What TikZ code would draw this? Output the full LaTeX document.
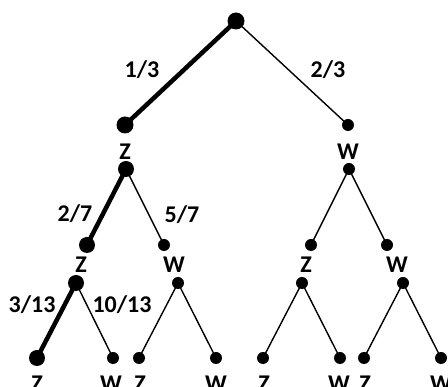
\documentclass[tikz,border=0pt]{standalone}
\usepackage{fontspec}
\setmainfont{Carlito}
\usetikzlibrary{positioning}

\begin{document}
\begin{tikzpicture}[
			x=1pt,y=-1pt,
			bdot/.style={circle,fill=black,inner sep=0pt,minimum size=17pt},
			sdot/.style={circle,fill=black,inner sep=0pt,minimum size=12pt},
			lbl/.style={font=\fontsize{24}{28}\selectfont\bfseries,inner sep=0pt},
			thick edge/.style={line width=4.5pt},
			thin edge/.style={line width=1.4pt}
			]
			\useasboundingbox (0,0) rectangle (448,387);
			\node[bdot](root) at (236,21) {};
			\node[bdot](a) at (125,125) {};
			\node[sdot](b) at (348,125) {};
			\node[lbl](la) at (125,152) {Z};
			\node[lbl](lb) at (348,152) {W};
			\node[bdot,minimum size=16pt](a2) at (126,169) {};
			\node[sdot](b2) at (349,169) {};
			\node[bdot,minimum size=16pt](c) at (87,245) {};
			\node[sdot](d) at (164,245) {};
			\node[sdot](e) at (311,245) {};
			\node[sdot](f) at (387,245) {};
			\node[lbl](lc) at (81,265) {Z};
			\node[lbl](ld) at (174,265) {W};
			\node[lbl](le) at (306,265) {Z};
			\node[lbl](lf) at (397,265) {W};
			\node[bdot,minimum size=16pt](c2) at (76,283) {};
			\node[sdot](d2) at (178,283) {};
			\node[sdot](e2) at (302,283) {};
			\node[sdot](f2) at (403,283) {};
			\node[bdot,minimum size=16pt](g) at (37,358) {};
			\node[sdot](h) at (113,358) {};
			\node[sdot](i) at (139,358) {};
			\node[sdot](j) at (216,358) {};
			\node[sdot](k) at (263,358) {};
			\node[sdot](l) at (340,358) {};
			\node[sdot](m) at (364,358) {};
			\node[sdot](n) at (441,358) {};
			\node[lbl](lg) at (37,384) {Z};
			\node[lbl](lh) at (111,384) {W};
			\node[lbl](li) at (140,384) {Z};
			\node[lbl](lj) at (216,384) {W};
			\node[lbl](lk) at (264,384) {Z};
			\node[lbl](ll) at (339,384) {W};
			\node[lbl](lm) at (365,384) {Z};
			\node[lbl](ln) at (441,384) {W};
			\draw[thick edge] (root.center) -- (a.center);
			\draw[thin edge] (root.center) -- (b.center);
			\draw[thick edge] (a2.center) -- (c.center);
			\draw[thin edge] (a2.center) -- (d.center);
			\draw[thin edge] (b2.center) -- (e.center);
			\draw[thin edge] (b2.center) -- (f.center);
			\draw[thick edge] (c2.center) -- (g.center);
			\draw[thin edge] (c2.center) -- (h.center);
			\draw[thin edge] (d2.center) -- (i.center);
			\draw[thin edge] (d2.center) -- (j.center);
			\draw[thin edge] (e2.center) -- (k.center);
			\draw[thin edge] (e2.center) -- (l.center);
			\draw[thin edge] (f2.center) -- (m.center);
			\draw[thin edge] (f2.center) -- (n.center);
			\node[lbl](p1) at (142,70) {1/3};
			\node[lbl](p2) at (328,70) {2/3};
			\node[lbl](p3) at (75,214) {2/7};
			\node[lbl](p4) at (182,215) {5/7};
			\node[lbl](p5) at (32,305) {3/13};
			\node[lbl](p6) at (122,305) {10/13};
		\end{tikzpicture}
\end{document}
